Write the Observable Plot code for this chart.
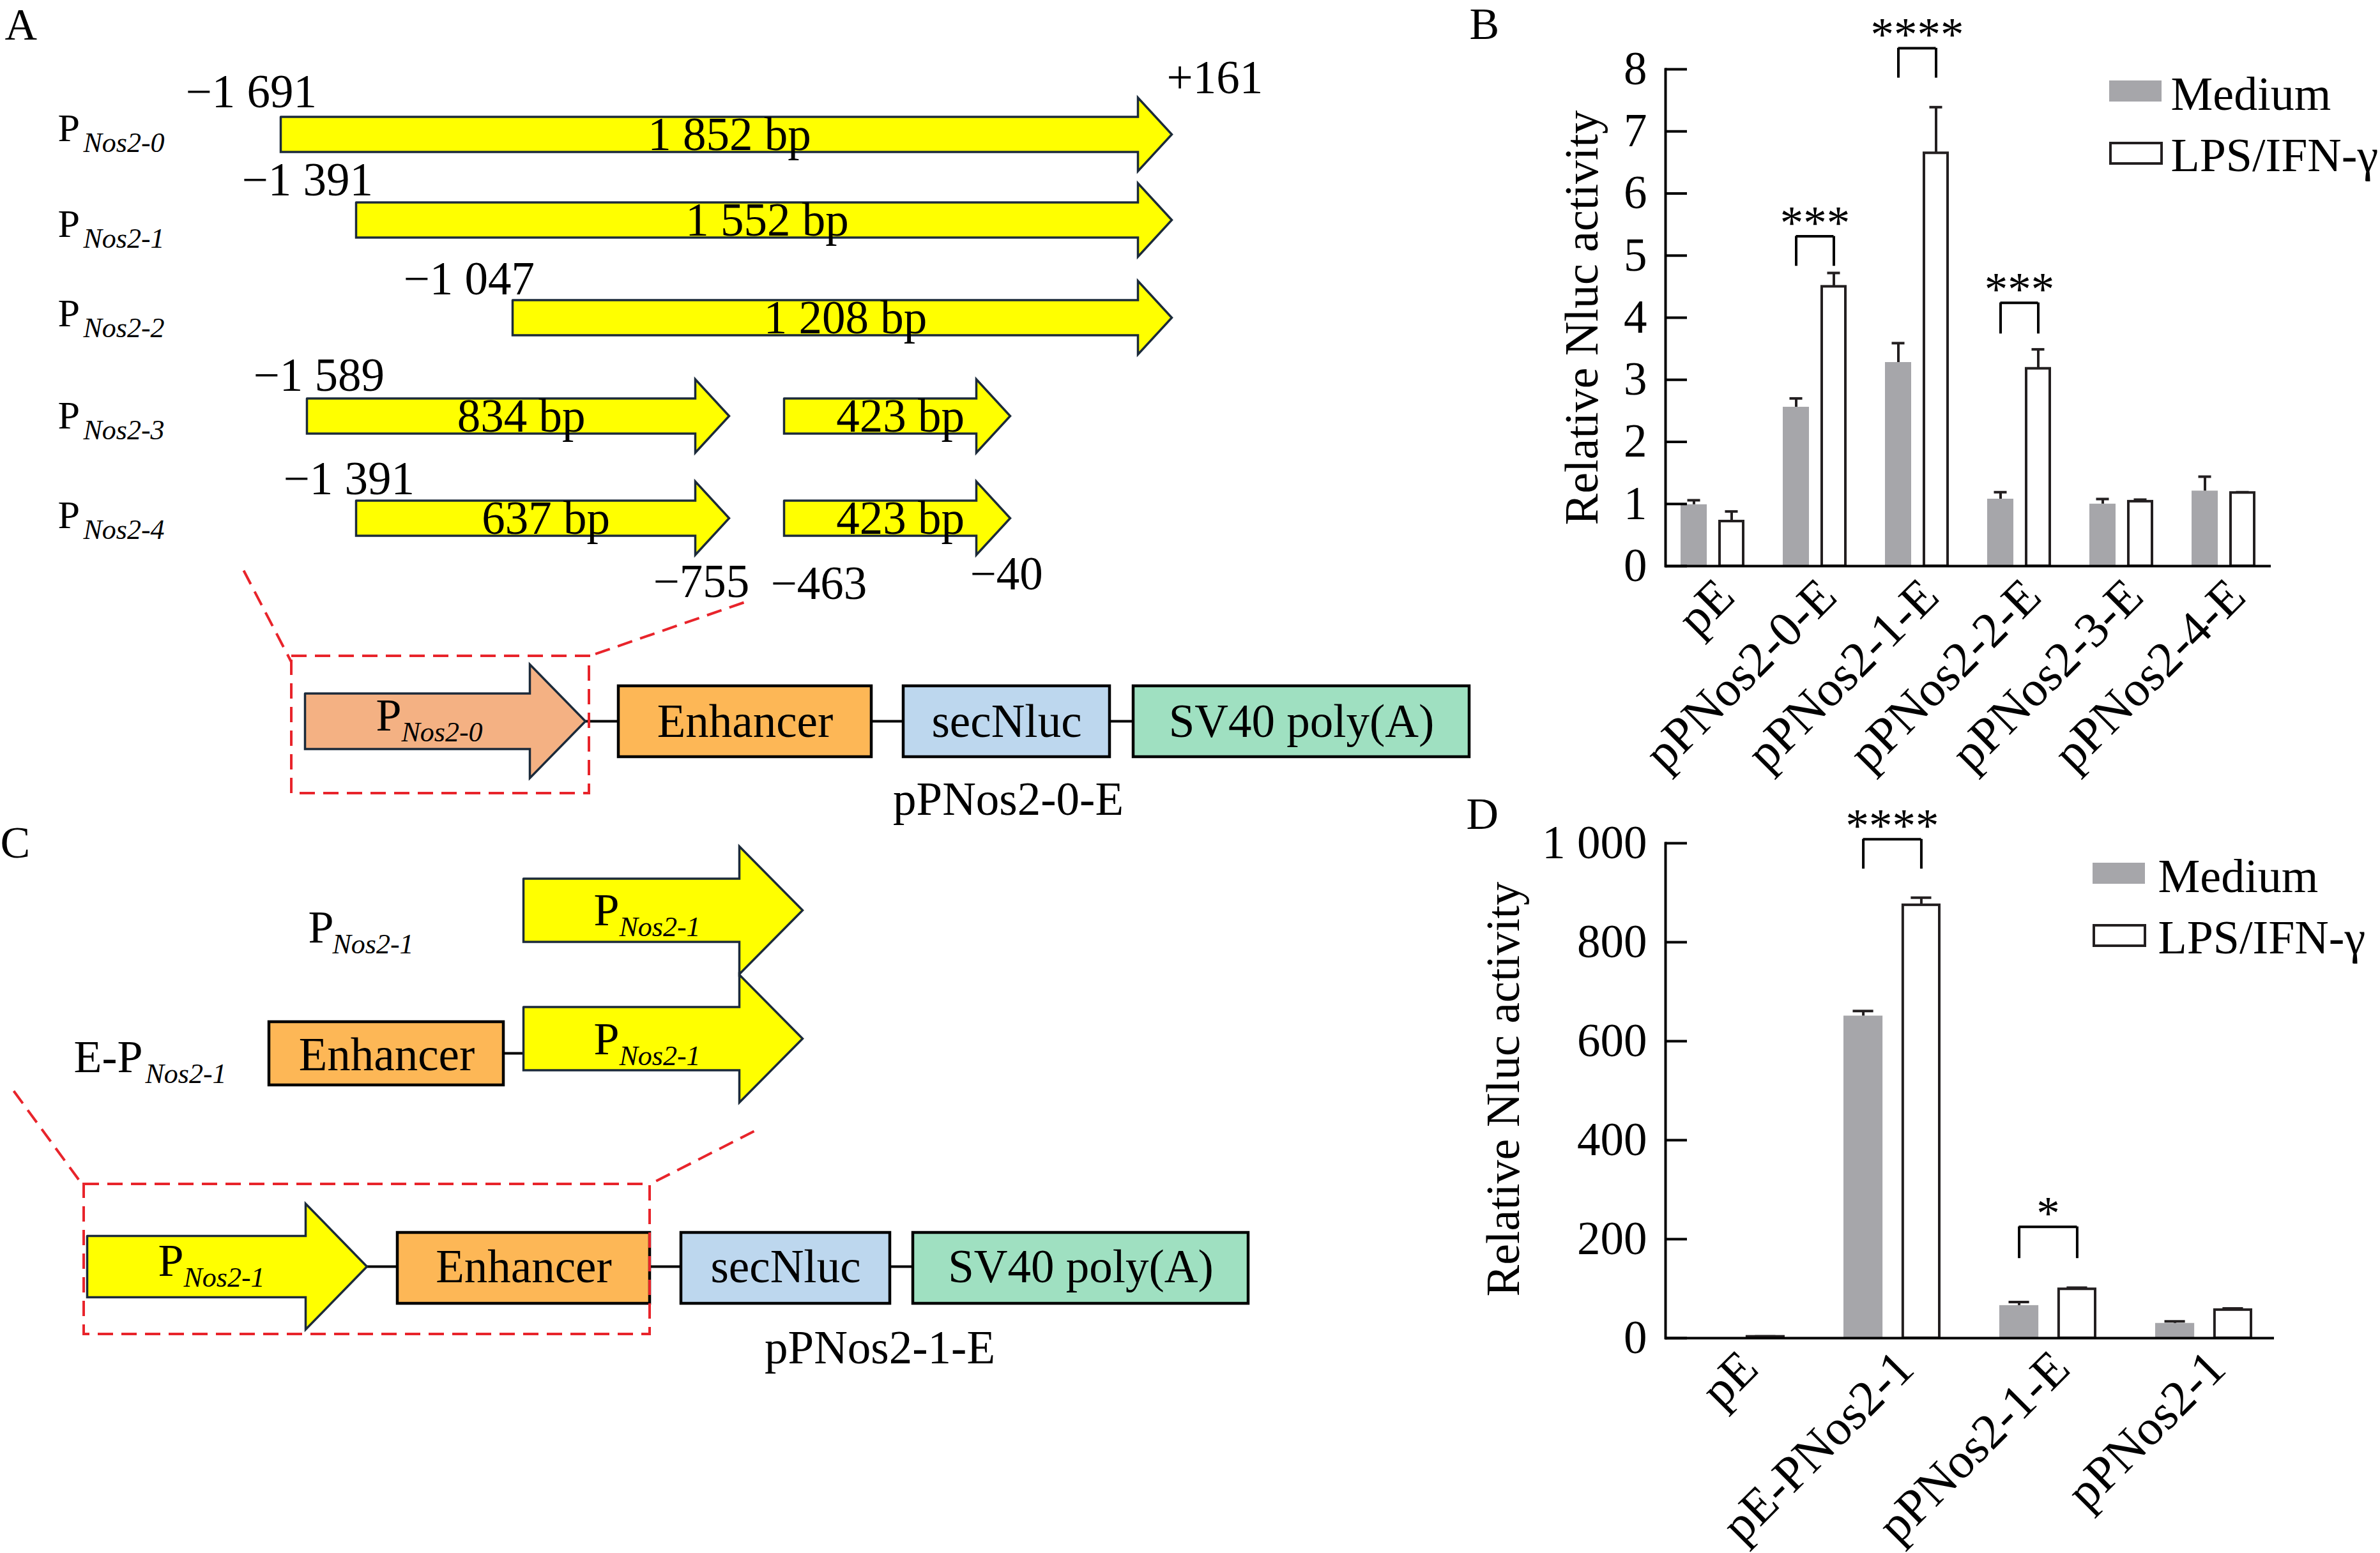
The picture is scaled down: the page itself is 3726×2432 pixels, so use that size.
<!DOCTYPE html>
<html><head><meta charset="utf-8">
<script src="https://cdn.jsdelivr.net/npm/d3@7"></script>
<script src="https://cdn.jsdelivr.net/npm/@observablehq/plot@0.6"></script>
<style>
html,body{margin:0;padding:0;background:#fff;}
#fig{position:relative;width:3726px;height:2432px;overflow:hidden;background:#fff;}
#fig > div{position:absolute;}
#fig svg{max-width:none !important;display:block;}
</style></head><body><div id="fig"></div>
<script>
// ---------------- DATA ----------------
const panelLetters = ["A", "B", "C", "D"];
const promoterNames = ["Nos2-0", "Nos2-1", "Nos2-2", "Nos2-3", "Nos2-4"];
const segRow  = [0, 1, 2, 3, 3, 4, 4];
const segFrom = [-1691, -1391, -1047, -1589, -463, -1391, -463];
const segTo   = [161, 161, 161, -755, -40, -755, -40];
const segBp   = [1852, 1552, 1208, 834, 423, 637, 423];
const coordText  = ["−1 691", "+161", "−1 391", "−1 047", "−1 589", "−1 391", "−755", "−463", "−40"];
const coordValue = [-1691, 161, -1391, -1047, -1589, -1391, -755, -463, -40];
const coordRow   = [0, 0, 1, 2, 3, 4, 4, 4, 4];
const constructParts = ["Enhancer", "secNluc", "SV40 poly(A)"];
const constructNames = ["pPNos2-0-E", "pPNos2-1-E"];
const seriesNames = ["Medium", "LPS/IFN-γ"];
const yTitle = "Relative Nluc activity";

// Panel B
const catsB = ["pE", "pPNos2-0-E", "pPNos2-1-E", "pPNos2-2-E", "pPNos2-3-E", "pPNos2-4-E"];
const medB    = [0.99, 2.56, 3.28, 1.08, 1.00, 1.21];
const medErrB = [0.07, 0.14, 0.31, 0.11, 0.08, 0.23];
const lpsB    = [0.72, 4.50, 6.65, 3.18, 1.04, 1.18];
const lpsErrB = [0.16, 0.22, 0.74, 0.31, 0.03, 0.01];
const sigCatB  = ["pPNos2-0-E", "pPNos2-1-E", "pPNos2-2-E"];
const sigTextB = ["***", "****", "***"];
const sigTopB  = [5.31, 8.34, 4.24];
const sigLegB  = [4.83, 7.86, 3.74];
const ticksB = [0, 1, 2, 3, 4, 5, 6, 7, 8];

// Panel D
const catsD = ["pE", "pE-PNos2-1", "pPNos2-1-E", "pPNos2-1"];
const medD    = [1, 651, 66, 30];
const medErrD = [0, 10, 7, 4];
const lpsD    = [3, 875, 99, 57];
const lpsErrD = [0.5, 15, 3, 3];
const sigCatD  = ["pE-PNos2-1", "pPNos2-1-E"];
const sigTextD = ["****", "*"];
const sigTopD  = [1008, 225];
const sigLegD  = [948, 161];
const ticksD = [0, 200, 400, 600, 800, 1000];

// ---------------- STYLE / LAYOUT ----------------
const W = 3726, H = 2432;
const FONT = "Liberation Serif, Times New Roman, serif";
const FS = 73;
const NAVY = "#1b2a3a", RED = "#e8242b", YELLOW = "#ffff00", SALMON = "#f4b183";
const ORANGE = "#fdb756", BLUE = "#bdd7ee", GREEN = "#9fe0c1", GRAY = "#a6a6aa", INK = "#231f20";
const partFill = [ORANGE, BLUE, GREEN];

const fig = document.getElementById("fig");
function place(svg, left, top) {
  const d = document.createElement("div");
  d.style.left = left + "px"; d.style.top = top + "px";
  d.appendChild(svg); fig.appendChild(d);
}
const fmtBp = n => (n >= 1000 ? `${Math.floor(n / 1000)} ${String(n % 1000).padStart(3, "0")}` : `${n}`) + " bp";

// genomic coordinate -> drawing x (the schematic is not drawn to scale)
const gStops = Array.from(new Set([...segFrom, ...segTo])).sort((a, b) => a - b);
const gPx = [439, 480, 557, 802, 1141, 1227, 1581, 1834];
let gx;
try {
  const s = Plot.scale({x: {type: "linear", domain: gStops, range: gPx}});
  gx = v => s.apply(v);
  if (!isFinite(gx(0))) throw new Error("bad");
} catch (e) { gx = d3.scaleLinear(gStops, gPx); }

const rowY = [210, 344, 497, 651, 811];
const rowLabelBase = [220, 370, 510, 670, 826];
const coordDx = [-149, -8, -179, -171, -84, -114, -119, -21, -63];
const coordDy = [-43, -65, -39, -37, -40, -38, 123, 126, 111];

function arrowPts(id, x0, x1, cy, bh, hh, hl) {
  const xb = x1 - hl;
  return [[x0, cy - bh], [xb, cy - bh], [xb, cy - hh], [x1, cy], [xb, cy + hh], [xb, cy + bh], [x0, cy + bh], [x0, cy - bh]]
    .map(([x, y]) => ({id, x, y}));
}
const T = (data, o) => Plot.text(data, {fontFamily: FONT, fontSize: FS, textAnchor: "start", lineAnchor: "bottom", fill: "black", ...o});
function subLabel(items, fsMain, fsSub) {
  return [
    T(items, {x: "x", y: "y", text: "main", fontSize: fsMain}),
    T(items, {x: d => d.x + d.subDx, y: d => d.y + 17, text: "sub", fontSize: fsSub, fontStyle: "italic"})
  ];
}
const poly = (pts, fill) => Plot.line(pts, {x: "x", y: "y", z: "id", fill, stroke: NAVY, strokeWidth: 3.5, strokeLinejoin: "miter", strokeMiterlimit: 10, curve: "linear"});

// ---------- page-level schematic (panels A & C, legends, titles) ----------
const marks = [];

const letterPos = [[7, 61], [2300, 60], [0, 1342], [2295, 1297]];
marks.push(T(panelLetters.map((t, i) => ({t, x: letterPos[i][0], y: letterPos[i][1]})), {x: "x", y: "y", text: "t", fontSize: 70}));

// Panel A promoter arrows
const segPts = segFrom.flatMap((f, i) => arrowPts("s" + i, gx(f), gx(segTo[i]), rowY[segRow[i]], 27.5, 57.5, 53));
marks.push(poly(segPts, YELLOW));
marks.push(T(segBp.map((b, i) => ({t: fmtBp(b), x: (gx(segFrom[i]) + gx(segTo[i])) / 2 + 5, y: rowY[segRow[i]] + 24})),
  {x: "x", y: "y", text: "t", textAnchor: "middle"}));
marks.push(T(coordText.map((t, i) => ({t, x: gx(coordValue[i]) + coordDx[i], y: rowY[coordRow[i]] + coordDy[i]})),
  {x: "x", y: "y", text: "t"}));
marks.push(...subLabel(promoterNames.map((n, i) => ({x: 90, y: rowLabelBase[i], main: "P", sub: n, subDx: 40})), 62, 44));

// constructs
const cA = {cy: 1129, x0: 477, x1: 916, bh: 43.5, hh: 89, hl: 87, boxes: [[968, 1364], [1414, 1737], [1774, 2300]], y1: 1074, y2: 1185};
const cC = {cy: 1983, x0: 136, x1: 574, bh: 48, hh: 98.5, hl: 96, boxes: [[622, 1017], [1066, 1393], [1429, 1954]], y1: 1930, y2: 2041};

function construct(c, arrowFill, arrowSub, partsIdx) {
  const out = [];
  const links = [];
  let prev = c.x1;
  c.boxes.forEach(([a, b]) => { links.push({x1: prev, x2: a}); prev = b; });
  out.push(Plot.link(links, {x1: "x1", x2: "x2", y1: c.cy, y2: c.cy, stroke: "black", strokeWidth: 4}));
  out.push(poly(arrowPts("c" + c.cy, c.x0, c.x1, c.cy, c.bh, c.hh, c.hl), arrowFill));
  const boxes = c.boxes.map(([a, b], i) => ({x1: a, x2: b, f: partFill[partsIdx[i]], t: constructParts[partsIdx[i]]}));
  out.push(Plot.rect(boxes, {x1: "x1", x2: "x2", y1: c.y1, y2: c.y2, fill: "f", stroke: "black", strokeWidth: 4.5}));
  out.push(T(boxes, {x: d => (d.x1 + d.x2) / 2, y: c.cy + 24, text: "t", textAnchor: "middle"}));
  out.push(...subLabel([{x: c.x0 + 111, y: c.cy + 14, main: "P", sub: arrowSub, subDx: 40}], 72, 44));
  return out;
}
marks.push(...construct(cA, SALMON, promoterNames[0], [0, 1, 2]));
marks.push(...construct(cC, YELLOW, promoterNames[1], [0, 1, 2]));
marks.push(T([constructNames[0]], {x: 1578, y: 1275, text: d => d, textAnchor: "middle"}));
marks.push(T([constructNames[1]], {x: 1377, y: 2134, text: d => d, textAnchor: "middle"}));

// Panel C upper schematics
marks.push(Plot.link([{a: 788, b: 819}], {x1: "a", x2: "b", y1: 1649, y2: 1649, stroke: "black", strokeWidth: 4}));
marks.push(poly([...arrowPts("t1", 819, 1256, 1425, 49.5, 100, 99), ...arrowPts("t2", 819, 1256, 1626, 49.5, 100, 99)], YELLOW));
marks.push(Plot.rect([constructParts[0]], {x1: 421, x2: 788, y1: 1600, y2: 1699, fill: ORANGE, stroke: "black", strokeWidth: 4.5}));
marks.push(T([constructParts[0]], {x: 605, y: 1675, text: d => d, textAnchor: "middle"}));
marks.push(...subLabel([
  {x: 929, y: 1448, main: "P", sub: promoterNames[1], subDx: 40},
  {x: 929, y: 1650, main: "P", sub: promoterNames[1], subDx: 40},
  {x: 482, y: 1475, main: "P", sub: promoterNames[1], subDx: 38},
  {x: 115, y: 1678, main: "E-P", sub: promoterNames[1], subDx: 112}
], 72, 44));

// red dashed zoom indicators
const dash = {stroke: RED, strokeWidth: 4, strokeDasharray: "24,13", fill: "none"};
marks.push(Plot.rect([0], {x1: 456, x2: 922, y1: 1027, y2: 1242, ...dash}));
marks.push(Plot.rect([0], {x1: 131, x2: 1017, y1: 1854, y2: 2089, ...dash}));
marks.push(Plot.link([
  {x1: 381, y1: 893, x2: 456, y2: 1037}, {x1: 1164, y1: 943, x2: 922, y2: 1027},
  {x1: 21, y1: 1708, x2: 128, y2: 1854}, {x1: 1180, y1: 1771, x2: 1017, y2: 1854}
], {x1: "x1", y1: "y1", x2: "x2", y2: "y2", ...dash}));

// legends for B and D
function legend(x, yTop, gap, textX) {
  return [
    Plot.rect([0], {x1: x, x2: x + 82, y1: yTop, y2: yTop + 33, fill: GRAY}),
    Plot.rect([0], {x1: x + 2, x2: x + 82, y1: yTop + gap + 2, y2: yTop + gap + 34, fill: "white", stroke: INK, strokeWidth: 4}),
    T(seriesNames.map((t, i) => ({t, y: yTop + 45 + i * gap})), {x: textX, y: "y", text: "t", fontSize: 74})
  ];
}
marks.push(...legend(3302, 126, 96, 3398));
marks.push(...legend(3276, 1351, 96, 3378));

// y-axis titles
marks.push(T([yTitle], {x: 2500, y: 497, text: d => d, rotate: -90, textAnchor: "middle", fontSize: 74}));
marks.push(T([yTitle], {x: 2377, y: 1705, text: d => d, rotate: -90, textAnchor: "middle", fontSize: 74}));

const page = Plot.plot({
  width: W, height: H, margin: 0, axis: null,
  x: {type: "identity"}, y: {type: "identity"}, color: {type: "identity"},
  style: {fontFamily: FONT, background: "transparent", overflow: "visible"},
  marks
});
place(page, 0, 0);

// ---------- bar charts ----------
function barChart(cfg) {
  const n = cfg.cats.length;
  const innerW = cfg.width - cfg.mL - cfg.mR;
  const step = innerW / (n - cfg.pi + 2 * cfg.po);
  const bw = step * (1 - cfg.pi);
  const bar = cfg.barW, cap = cfg.capW, SW = 4;
  const off = bw / 2 - bar / 2;
  const rows = cfg.cats.map((c, i) => ({cat: c, med: cfg.med[i], medTop: cfg.med[i] + cfg.medErr[i], medErr: cfg.medErr[i],
    lps: cfg.lps[i], lpsTop: cfg.lps[i] + cfg.lpsErr[i], lpsErr: cfg.lpsErr[i]}));
  const sig = cfg.sigCat.map((c, i) => ({cat: c, text: cfg.sigText[i], top: cfg.sigTop[i], leg: cfg.sigLeg[i]}));
  const mErr = rows.filter(d => d.medErr > 0), lErr = rows.filter(d => d.lpsErr > 0);
  return Plot.plot({
    width: cfg.width, height: cfg.height,
    marginLeft: cfg.mL, marginRight: cfg.mR, marginTop: cfg.mT, marginBottom: cfg.mB,
    style: {fontFamily: FONT, fontSize: FS + "px", background: "transparent", overflow: "visible"},
    x: {domain: cfg.cats, paddingInner: cfg.pi, paddingOuter: cfg.po, label: null},
    y: {domain: cfg.domain, label: null},
    marks: [
      Plot.barY(rows, {x: "cat", y: "med", fill: GRAY, insetLeft: 0, insetRight: bw - bar}),
      Plot.barY(rows, {x: "cat", y: "lps", fill: "white", stroke: INK, strokeWidth: SW, insetLeft: bw - bar + SW / 2, insetRight: SW / 2}),
      Plot.ruleX(mErr, {x: "cat", y1: "med", y2: "medTop", dx: -off, stroke: INK, strokeWidth: SW}),
      Plot.tickY(mErr, {x: "cat", y: "medTop", insetLeft: bar / 2 - cap / 2, insetRight: bw - bar / 2 - cap / 2, stroke: INK, strokeWidth: SW}),
      Plot.ruleX(lErr, {x: "cat", y1: "lps", y2: "lpsTop", dx: off, stroke: INK, strokeWidth: SW}),
      Plot.tickY(lErr, {x: "cat", y: "lpsTop", insetLeft: bw - bar / 2 - cap / 2, insetRight: bar / 2 - cap / 2, stroke: INK, strokeWidth: SW}),
      Plot.tickY(sig, {x: "cat", y: "top", insetLeft: bar / 2, insetRight: bar / 2, strokeWidth: SW}),
      Plot.ruleX(sig, {x: "cat", y1: "leg", y2: "top", dx: -off, strokeWidth: SW}),
      Plot.ruleX(sig, {x: "cat", y1: "leg", y2: "top", dx: off, strokeWidth: SW}),
      Plot.text(sig, {x: "cat", y: "top", text: "text", lineAnchor: "bottom", dy: 4, fontSize: FS, fontFamily: FONT}),
      Plot.tickY(cfg.ticks, {y: d => d, insetRight: innerW - 34, strokeWidth: SW}),
      Plot.axisY({ticks: cfg.ticks, tickFormat: cfg.fmt, tickSize: 0, tickPadding: 29, fontSize: FS, fontFamily: FONT, label: null}),
      Plot.axisX({tickSize: 0, tickPadding: cfg.xPad, dx: cfg.xDx, tickRotate: -45, fontSize: 78, fontFamily: FONT, label: null}),
      Plot.ruleY([cfg.domain[0]], {strokeWidth: SW}),
      Plot.frame({anchor: "left", strokeWidth: SW})
    ]
  });
}

place(barChart({
  cats: catsB, med: medB, medErr: medErrB, lps: lpsB, lpsErr: lpsErrB,
  sigCat: sigCatB, sigText: sigTextB, sigTop: sigTopB, sigLeg: sigLegB,
  domain: [0, 8], ticks: ticksB, fmt: d => String(d),
  width: 1436, height: 1230, mL: 317, mR: 171, mT: 108, mB: 344,
  pi: 0.377, po: 0.142, barW: 41, capW: 20, xPad: 34, xDx: 20
}), 2290, 0);

place(barChart({
  cats: catsD, med: medD, medErr: medErrD, lps: lpsD, lpsErr: lpsErrD,
  sigCat: sigCatD, sigText: sigTextD, sigTop: sigTopD, sigLeg: sigLegD,
  domain: [0, 1000], ticks: ticksD, fmt: d => d >= 1000 ? `${Math.floor(d / 1000)} ${String(d % 1000).padStart(3, "0")}` : String(d),
  width: 1436, height: 1202, mL: 317, mR: 166, mT: 90, mB: 337,
  pi: 0.379, po: 0.138, barW: 61, capW: 32, xPad: 34, xDx: 20
}), 2290, 1230);
</script></body></html>
